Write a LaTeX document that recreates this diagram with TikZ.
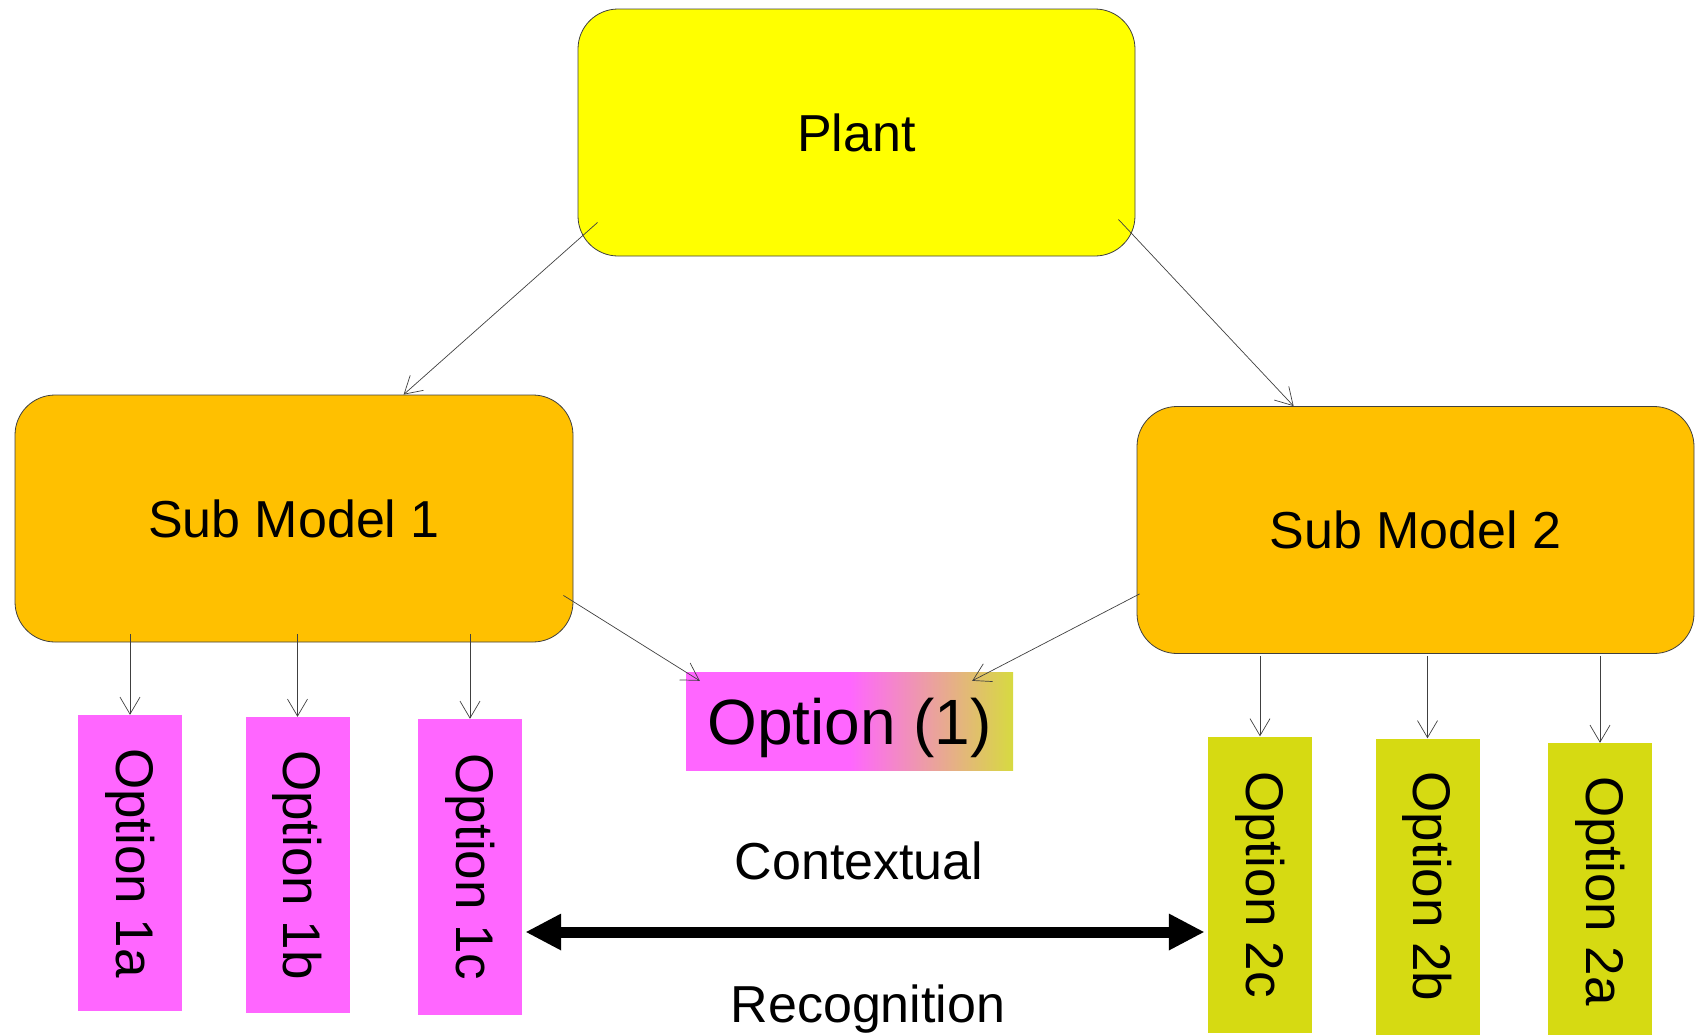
\documentclass[tikz,border=0pt]{standalone}
\usepackage{fontspec}
\setmainfont{Liberation Sans}
\usetikzlibrary{calc, arrows.meta, positioning}

\definecolor{plantyellow}{RGB}{255,255,0}
\definecolor{modelorange}{RGB}{255,192,0}
\definecolor{optpink}{RGB}{255,102,255}
\definecolor{optolive}{RGB}{214,218,18}
\definecolor{optend}{RGB}{215,218,64}
\definecolor{linegray}{RGB}{64,64,64}

% pink on the left half, fading to olive on the right half
\pgfdeclarehorizontalshading{pinkolive}{100bp}{
    color(0bp)=(optpink); color(25bp)=(optpink); color(50bp)=(optpink);
    color(75bp)=(optend); color(100bp)=(optend)}

\begin{document}
\begin{tikzpicture}[x=1pt, y=-1pt,
    bigbox/.style={draw=linegray, line width=0.8pt, rounded corners=40pt,
        minimum width=557pt, minimum height=247pt, font=\fontsize{52}{60}\selectfont},
    optbox/.style={rotate=-90, minimum width=296pt, minimum height=104pt,
        inner sep=0pt, font=\fontsize{53}{60}\selectfont},
    optmix/.style={minimum width=327pt, minimum height=98pt, inner sep=0pt,
        shading=pinkolive, text depth=0pt, font=\fontsize{64}{72}\selectfont},
    link/.style={draw=linegray, line width=0.7pt,
        -{Straight Barb[length=17pt, width=20pt]}},
    both/.style={line width=11pt,
        {Triangle[length=35pt, width=37pt, line width=0pt]}-{Triangle[length=35pt, width=37pt, line width=0pt]}},
    tag/.style={font=\fontsize{52}{60}\selectfont}]
    \useasboundingbox (0,0) rectangle (1695,1034);

    % 1. Plant and the two sub models
    \node[bigbox, fill=plantyellow] (plant) at (856.5,132.5) {Plant};
    \node[bigbox, fill=modelorange, minimum width=558pt] (sm1) at (294,518.5) {Sub Model 1};
    \node[bigbox, fill=modelorange] (sm2) at (1415.5,530) {Sub Model 2};

    % 2. Shared option
    \node[optmix] (opt) at (849.5,721) {Option (1)};

    % 3. Options of each sub model
    \foreach \n/\x/\y in {1a/130/863, 1b/297.5/865, 1c/470/867}
        \node[optbox, fill=optpink] (o\n) at (\x,\y) {Option \n};
    \foreach \n/\x/\y in {2c/1260/884.5, 2b/1427.5/886.5, 2a/1600/891}
        \node[optbox, fill=optolive] (o\n) at (\x,\y) {Option \n};

    % 4. Links
    \draw[link] ($(plant.south west)+(20,-34)$) -- ($(sm1.north west)+(389,0)$);
    \draw[link] ($(plant.south east)+(-17,-37)$) -- ($(sm2.north west)+(157,0)$);
    \draw[link] ($(sm1.south east)+(-10,-47)$) -- ($(opt.north west)+(14,9)$);
    \draw[link] ($(sm2.south west)+(3,-60)$) -- ($(opt.north east)+(-41,9)$);
    \foreach \n in {1a,1b,1c}
        \draw[link] ($(o\n.west |- sm1.south)+(0,-8)$) -- (o\n.west);
    \foreach \n in {2c,2b,2a}
        \draw[link] ($(o\n.west |- sm2.south)+(0,2)$) -- (o\n.west);

    % 5. Contextual recognition between the two groups
    \coordinate (mid) at (0,932);
    \draw[both] ($(o1c.north |- mid)+(4,0)$) -- ($(o2c.south |- mid)+(-4,0)$);
    \node[tag] (ctx) at (859,861) {Contextual};
    \node[tag] (rec) at (868,1009) {Recognition};
\end{tikzpicture}
\end{document}
